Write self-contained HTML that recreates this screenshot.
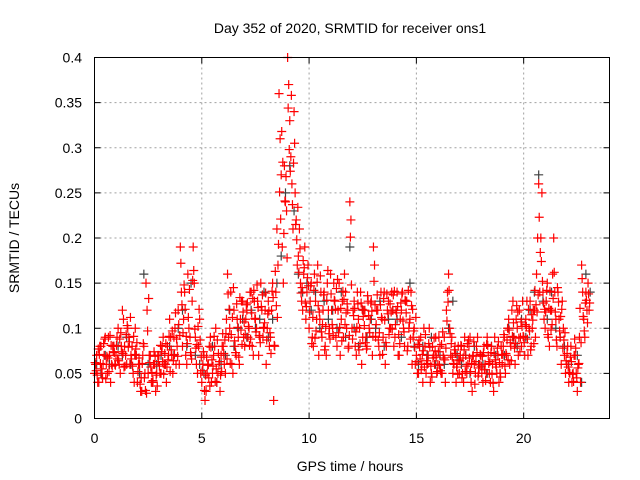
<!DOCTYPE html>
<html><head><meta charset="utf-8"><style>
html,body{margin:0;padding:0;background:#fff;}
svg{display:block;font-family:"Liberation Sans",sans-serif;}
</style></head><body>
<svg id="chart" width="640" height="480" viewBox="0 0 640 480" xmlns="http://www.w3.org/2000/svg">
<rect width="640" height="480" fill="#fff"/>
<text x="350" y="33" font-size="14" text-anchor="middle" fill="#000">Day 352 of 2020, SRMTID for receiver ons1</text>
<g id="grid"></g>
<g id="axes"></g>
<g id="marks-gray"></g>
<g id="marks-red"></g>
<rect x="94.5" y="57.5" width="515" height="361" fill="none" stroke="#000" stroke-width="1"/>
<text x="350" y="471" font-size="14" text-anchor="middle">GPS time / hours</text>
<text transform="translate(19,238) rotate(-90)" font-size="14" text-anchor="middle">SRMTID / TECUs</text>
</svg>
<script>
const xTicks=[0,5,10,15,20];
const yTicks=[0,0.05,0.1,0.15,0.2,0.25,0.3,0.35,0.4];
const yTickLabels=["0","0.05","0.1","0.15","0.2","0.25","0.3","0.35","0.4"];
const step=0.1, offsetA=0, offsetB=0.05, offsetC=0.025, offsetD=0.075, grayStep=0.2, grayOffset=0.1;
const redA=[0.05,0.07,0.04,0.08,0.06,0.09,0.05,0.07,0.06,0.08,
0.07,0.10,0.05,0.12,0.08,0.06,0.09,0.07,0.05,0.10,
0.04,0.06,0.03,0.08,0.15,0.05,0.07,0.04,0.06,0.05,
0.07,0.05,0.09,0.06,0.08,0.11,0.07,0.09,0.06,0.12,
0.19,0.08,0.14,0.06,0.10,0.07,0.19,0.09,0.05,0.11,
0.04,0.07,0.03,0.06,0.09,0.05,0.08,0.04,0.06,0.07,
0.08,0.05,0.16,0.10,0.06,0.12,0.07,0.09,0.11,0.13,
0.08,0.12,0.10,0.14,0.07,0.11,0.13,0.09,0.12,0.10,
0.06,0.13,0.09,0.15,0.08,0.21,0.36,0.27,0.15,0.24,
0.40,0.33,0.26,0.34,0.22,0.18,0.15,0.12,0.19,0.14,
0.10,0.15,0.08,0.13,0.17,0.11,0.09,0.14,0.07,0.12,
0.16,0.10,0.13,0.08,0.15,0.11,0.09,0.14,0.12,0.24,
0.10,0.13,0.07,0.11,0.14,0.09,0.12,0.08,0.10,0.13,
0.19,0.09,0.12,0.07,0.11,0.14,0.08,0.13,0.10,0.12,
0.09,0.14,0.07,0.12,0.10,0.13,0.08,0.11,0.06,0.10,
0.07,0.05,0.09,0.04,0.08,0.06,0.10,0.05,0.07,0.09,
0.06,0.08,0.05,0.09,0.12,0.16,0.07,0.05,0.08,0.06,
0.05,0.08,0.04,0.07,0.06,0.09,0.03,0.06,0.08,0.05,
0.07,0.04,0.06,0.09,0.05,0.08,0.03,0.06,0.07,0.05,
0.06,0.09,0.07,0.11,0.08,0.13,0.06,0.10,0.12,0.08,
0.09,0.11,0.07,0.13,0.10,0.12,0.16,0.26,0.20,0.14,
0.10,0.15,0.08,0.12,0.20,0.11,0.14,0.09,0.13,0.07,
0.06,0.04,0.08,0.05,0.07,0.03,0.09,0.17,0.11,0.14,
0.15];
const redB=[0.06,0.04,0.08,0.05,0.07,0.06,0.09,0.04,0.08,0.06,
0.09,0.06,0.08,0.11,0.07,0.10,0.06,0.08,0.04,0.07,
0.06,0.03,0.07,0.05,0.12,0.07,0.04,0.06,0.03,0.07,
0.05,0.08,0.06,0.04,0.07,0.09,0.05,0.10,0.08,0.06,
0.14,0.11,0.07,0.16,0.09,0.13,0.15,0.06,0.08,0.05,
0.06,0.02,0.05,0.08,0.04,0.07,0.10,0.05,0.03,0.08,
0.06,0.11,0.09,0.14,0.05,0.08,0.11,0.06,0.13,0.09,
0.11,0.09,0.14,0.08,0.13,0.10,0.07,0.15,0.09,0.12,
0.10,0.08,0.12,0.02,0.14,0.17,0.31,0.19,0.28,0.23,
0.37,0.29,0.21,0.25,0.17,0.21,0.13,0.16,0.11,0.17,
0.13,0.09,0.16,0.11,0.07,0.14,0.12,0.08,0.15,0.10,
0.12,0.15,0.09,0.12,0.07,0.13,0.16,0.10,0.08,0.22,
0.12,0.08,0.14,0.10,0.06,0.12,0.09,0.13,0.11,0.07,
0.17,0.12,0.08,0.14,0.09,0.06,0.12,0.10,0.14,0.08,
0.12,0.07,0.11,0.14,0.08,0.13,0.10,0.14,0.09,0.06,
0.05,0.08,0.06,0.10,0.05,0.07,0.04,0.08,0.06,0.05,
0.09,0.05,0.07,0.04,0.14,0.10,0.09,0.06,0.04,0.08,
0.07,0.05,0.09,0.05,0.08,0.04,0.07,0.05,0.09,0.06,
0.05,0.08,0.05,0.07,0.04,0.06,0.09,0.05,0.04,0.08,
0.08,0.05,0.10,0.06,0.12,0.09,0.11,0.07,0.09,0.13,
0.07,0.13,0.10,0.08,0.12,0.09,0.20,0.14,0.25,0.11,
0.13,0.09,0.12,0.16,0.14,0.08,0.11,0.06,0.10,0.05,
0.08,0.05,0.04,0.07,0.05,0.06,0.04,0.14,0.09,0.12,
0.12];
const redC=[.062,.048,.071,.055,.083,.044,.067,.092,.058,.073,
.081,.064,.095,.072,.058,.103,.085,.066,.091,.077,
.052,.038,.061,.045,.028,.133,.057,.042,.069,.036,
.058,.074,.049,.083,.065,.052,.097,.071,.088,.104,
.172,.095,.121,.083,.143,.066,.164,.078,.102,.087,
.053,.031,.068,.045,.079,.058,.041,.087,.063,.052,
.072,.094,.138,.061,.112,.086,.127,.068,.098,.118,
.093,.128,.081,.117,.142,.096,.123,.084,.137,.106,
.087,.119,.072,.134,.163,.112,.251,.318,.205,.268,
.344,.274,.237,.305,.198,.162,.139,.175,.128,.156,
.118,.083,.142,.097,.125,.158,.104,.076,.131,.094,
.138,.092,.121,.154,.101,.086,.132,.117,.078,.201,
.088,.122,.101,.076,.128,.113,.084,.136,.095,.119,
.152,.104,.087,.126,.071,.109,.138,.093,.118,.137,
.104,.124,.083,.138,.096,.117,.142,.088,.121,.079,
.063,.087,.054,.075,.093,.061,.079,.046,.089,.068,
.074,.053,.096,.065,.108,.142,.083,.061,.072,.049,
.064,.045,.076,.058,.087,.052,.069,.038,.073,.056,
.058,.073,.042,.081,.063,.049,.072,.057,.085,.046,
.071,.058,.087,.098,.064,.106,.083,.118,.074,.102,
.084,.102,.121,.076,.109,.142,.118,.223,.174,.128,
.118,.093,.141,.104,.162,.087,.129,.113,.078,.095,
.072,.051,.063,.041,.078,.056,.122,.155,.097,.131,
.138];
const redD=[.053,.077,.061,.045,.088,.069,.052,.081,.074,.059,
.066,.088,.074,.057,.093,.079,.112,.058,.071,.084,
.067,.045,.083,.031,.097,.062,.051,.074,.048,.063,
.081,.063,.072,.057,.091,.076,.064,.117,.069,.092,
.126,.148,.091,.112,.073,.153,.099,.082,.121,.068,
.074,.048,.059,.036,.065,.091,.055,.072,.048,.094,
.087,.066,.121,.093,.145,.073,.101,.134,.082,.107,
.126,.102,.088,.133,.111,.148,.092,.124,.101,.139,
.116,.095,.141,.081,.125,.193,.221,.284,.241,.178,
.298,.358,.283,.215,.234,.188,.145,.167,.124,.147,
.147,.112,.089,.151,.118,.096,.137,.102,.164,.088,
.104,.131,.144,.095,.122,.141,.104,.127,.092,.148,
.114,.096,.127,.083,.121,.103,.077,.114,.128,.091,
.126,.137,.095,.112,.133,.084,.116,.127,.099,.141,
.117,.093,.128,.108,.131,.075,.106,.125,.097,.112,
.082,.066,.071,.057,.064,.083,.058,.067,.075,.052,
.059,.082,.067,.078,.129,.094,.068,.076,.057,.065,
.081,.067,.052,.083,.067,.061,.085,.063,.047,.071,
.069,.054,.082,.061,.073,.039,.065,.078,.062,.071,
.093,.072,.065,.084,.091,.078,.125,.089,.107,.091,
.104,.088,.097,.115,.083,.126,.137,.184,.152,.121,
.142,.122,.098,.133,.118,.145,.097,.121,.087,.064,
.057,.068,.049,.088,.045,.061,.084,.113,.128,.106,
.128];
const gray=[0.06,0.05,0.07,0.06,0.08,
0.08,0.07,0.09,0.06,0.07,
0.05,0.16,0.06,0.04,0.06,
0.07,0.06,0.08,0.07,0.10,
0.12,0.08,0.15,0.07,0.06,
0.05,0.06,0.08,0.04,0.06,
0.07,0.12,0.08,0.10,0.11,
0.09,0.12,0.10,0.11,0.14,
0.09,0.11,0.15,0.18,0.25,
0.28,0.23,0.16,0.14,0.15,
0.12,0.14,0.10,0.13,0.11,
0.12,0.10,0.14,0.09,0.19,
0.10,0.08,0.12,0.09,0.11,
0.10,0.13,0.08,0.11,0.12,
0.11,0.09,0.13,0.15,0.08,
0.06,0.08,0.07,0.09,0.06,
0.07,0.06,0.10,0.13,0.07,
0.06,0.07,0.05,0.08,0.06,
0.06,0.05,0.08,0.07,0.05,
0.07,0.10,0.09,0.08,0.11,
0.09,0.12,0.14,0.27,0.13,
0.11,0.14,0.10,0.09,0.08,
0.06,0.05,0.07,0.04,0.16,
0.14];

const NS="http://www.w3.org/2000/svg";
const L=94.5,R=609.5,T=57.5,B=418.5,XMAX=24,YMAX=0.4;
function xs(v){return L+(R-L)*v/XMAX;}
function ys(v){return B-(B-T)*v/YMAX;}
function mk(tag,attrs,parent){const e=document.createElementNS(NS,tag);for(const k in attrs)e.setAttribute(k,attrs[k]);parent.appendChild(e);return e;}
const grid=document.getElementById('grid'),axes=document.getElementById('axes');
xTicks.forEach(t=>{
  const x=xs(t);
  if(t>0){const g=mk('line',{x1:x,x2:x,y1:T,y2:B,stroke:'#a0a0a0','stroke-dasharray':'2,3','stroke-width':1},grid);
  
  }
  const tk=mk('line',{x1:x,x2:x,y1:B,y2:B-6,stroke:'#000'},axes);
  
  
  const tk2=mk('line',{x1:x,x2:x,y1:T,y2:T+6,stroke:'#000'},axes);
  
  
  const lb=mk('text',{x:x,y:443,'font-size':14,'text-anchor':'middle'},axes);
  lb.textContent=String(t);
  
  
});
yTicks.forEach((t,i)=>{
  const y=ys(t);
  if(t>0&&t<YMAX){const g=mk('line',{x1:L,x2:R,y1:y,y2:y,stroke:'#a0a0a0','stroke-dasharray':'2,3','stroke-width':1},grid);
  
  }
  const tk=mk('line',{x1:L,x2:L+6,y1:y,y2:y,stroke:'#000'},axes);
  
  
  const tk2=mk('line',{x1:R,x2:R-6,y1:y,y2:y,stroke:'#000'},axes);
  
  
  const lb=mk('text',{x:82,y:y+5,'font-size':14,'text-anchor':'end'},axes);
  lb.textContent=yTickLabels[i];
  
  
});
function plus(parent,t,v,color,name){
  const x=xs(t),y=ys(v),h=4.5;
  const p=mk('path',{d:`M${x-h},${y}H${x+h}M${x},${y-h}V${y+h}`,stroke:color,'stroke-width':1.2,fill:'none'},parent);
  
  
}
const gG=document.getElementById('marks-gray'),gR=document.getElementById('marks-red');
gray.forEach((v,i)=>plus(gG,grayOffset+i*grayStep,v,'#404040','gray-point'));
redA.forEach((v,i)=>plus(gR,offsetA+i*step,v,'#ff0000','red-point'));
redB.forEach((v,i)=>plus(gR,offsetB+i*step,v,'#ff0000','red-point'));
redC.forEach((v,i)=>plus(gR,offsetC+i*step,v,'#ff0000','red-point'));
redD.forEach((v,i)=>plus(gR,offsetD+i*step,v,'#ff0000','red-point'));
</script>
</body></html>
